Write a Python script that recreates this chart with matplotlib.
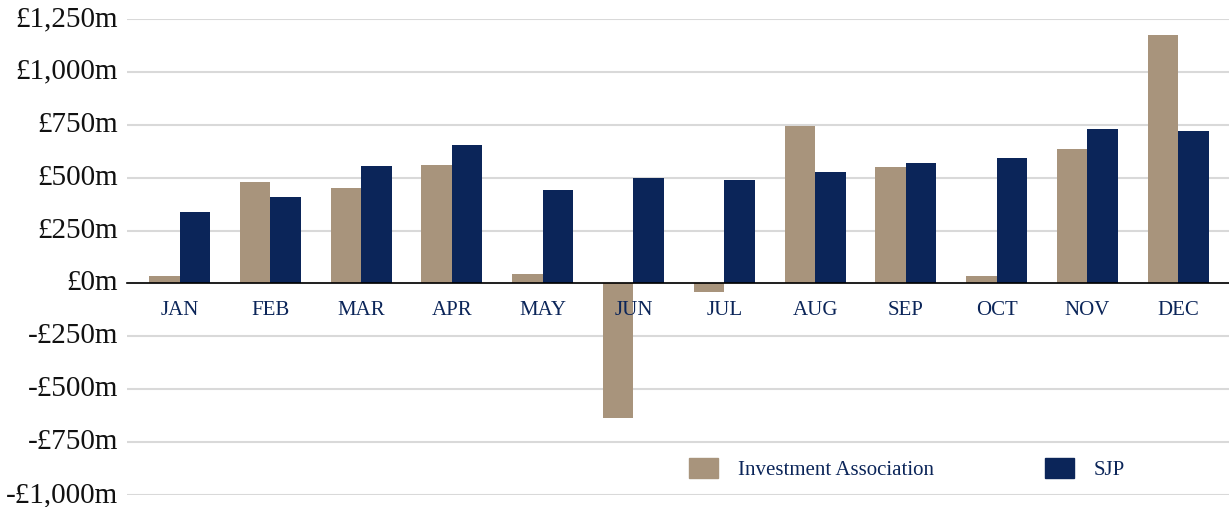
import matplotlib.pyplot as plt
from matplotlib.patches import Patch
from matplotlib.ticker import FuncFormatter
from matplotlib.transforms import ScaledTranslation
import numpy as np

months = ['JAN', 'FEB', 'MAR', 'APR', 'MAY', 'JUN', 'JUL', 'AUG', 'SEP', 'OCT', 'NOV', 'DEC']
ia_flows = [35, 480, 451, 560, 45, -636, -40, 745, 551, 35, 636, 1175]
sjp_flows = [338, 409, 556, 655, 442, 499, 490, 527, 570, 594, 731, 721]
y_ticks = [-1000, -750, -500, -250, 0, 250, 500, 750, 1000, 1250]

beige = '#a8947c'
navy = '#0b2559'
plt.rcParams['font.family'] = ['Liberation Serif', 'DejaVu Serif']

fig = plt.figure(figsize=(12.29, 5.07), dpi=100)
ax = fig.add_axes([0.1033, 0.0237, 0.8967, 0.9389])

x = np.arange(len(months))
w = 0.336
ax.bar(x - w / 2, ia_flows, w, color=beige, zorder=2)
ax.bar(x + w / 2, sjp_flows, w, color=navy, zorder=2)

ax.set_xlim(-0.58, 11.56)
ax.set_ylim(-1000, 1250)
ax.set_yticks(y_ticks)


def money(v, pos):
    v = int(round(v))
    sign = '-' if v < 0 else ''
    return '%s£%sm' % (sign, format(abs(v), ','))


ax.yaxis.set_major_formatter(FuncFormatter(money))
ax.set_xticks(x)
ax.set_xticklabels(months)

ax.set_axisbelow(True)
ax.grid(axis='y', color='#d9d9d9', linewidth=1.5)
ax.xaxis.set_zorder(4)  # month names stay on top of the negative bars
for s in ['top', 'right', 'left']:
    ax.spines[s].set_visible(False)
ax.spines['bottom'].set_position(('data', 0))
ax.spines['bottom'].set_color('black')
ax.spines['bottom'].set_linewidth(1.2)
ax.spines['bottom'].set_zorder(3)

ax.tick_params(axis='x', length=0, pad=13, labelsize=15, labelcolor=navy)
ax.tick_params(axis='y', length=0, pad=6.5, labelsize=21, labelcolor='#111111')
lift = ScaledTranslation(0, 3 / 100, fig.dpi_scale_trans)
for lbl in ax.get_yticklabels():
    lbl.set_transform(lbl.get_transform() + lift)

# legend sits in the lower right, inside the plot area
handles = [Patch(color=beige, label='Investment Association'),
           Patch(color=navy, label='SJP')]
leg = fig.legend(handles=handles, ncol=2, frameon=False, fontsize=15,
                 loc='center left', bbox_to_anchor=(689 / 1229, 38 / 507),
                 borderpad=0, borderaxespad=0,
                 handlelength=1.4, handleheight=1.1, handletextpad=0.96,
                 columnspacing=5.3)
for t in leg.get_texts():
    t.set_color(navy)

fig.savefig('out.png', dpi=100)
